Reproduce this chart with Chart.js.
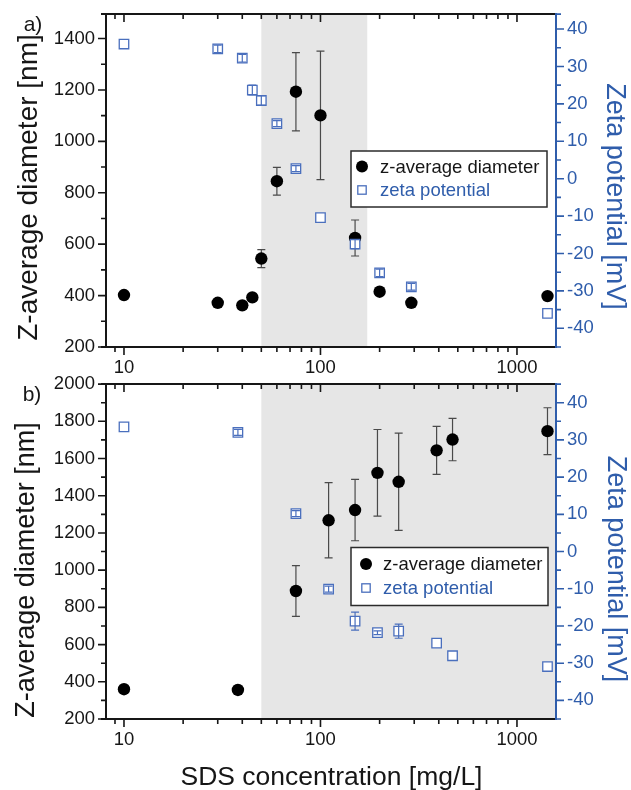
<!DOCTYPE html>
<html>
<head>
<meta charset="utf-8">
<script src="https://cdn.jsdelivr.net/npm/chart.js@4.4.1/dist/chart.umd.min.js"></script>
<style>
  body { margin: 0; background: #fff; }
  #wrap { position: relative; width: 631px; height: 790px; overflow: hidden; }
  #wrap canvas { position: absolute; left: 0; }
  #chartA { top: 0; }
  #chartB { top: 370px; }
</style>
</head>
<body>
<div id="wrap">
  <canvas id="chartA" width="631" height="380"></canvas>
  <canvas id="chartB" width="631" height="420"></canvas>
</div>
<script>
// ---- data ----
// panel a)
const concA    = [10, 30, 40, 45, 50, 60, 75, 100, 150, 200, 290, 1430];
const diamA    = [402, 372, 362, 393, 544, 845, 1193, 1101, 624, 415, 372, 398];
const diamErrA = [0, 0, 0, 0, 35, 54, 152, 250, 70, 0, 0, 0];
const zetaA    = [36, 34.7, 32.2, 23.7, 20.9, 14.7, 2.7, -10.4, -17.5, -25.2, -28.9, -36];
const zetaErrA = [0, 1.0, 1.0, 1.3, 1.3, 0.8, 0.8, 0, 1.2, 1.0, 0.9, 0];
const shadeA   = [50, 173];

// panel b)
const concB    = [10, 38, 75, 110, 150, 195, 250, 390, 470, 1430];
const diamB    = [360, 356, 888, 1268, 1323, 1523, 1475, 1644, 1702, 1747];
const diamErrB = [0, 0, 136, 202, 165, 233, 261, 129, 114, 126];
const zetaB    = [33.5, 32, 10.2, -10.1, -18.7, -21.8, -21.4, -24.6, -28, -30.9];
const zetaErrB = [0, 0.8, 0.8, 0.8, 2.4, 0.5, 1.9, 0, 0, 0];
const shadeB   = [50, 5000];

// axes / ticks
const xRange      = [8.1, 1580];
const xMajorTicks = [10, 100, 1000];
const xTickValues = [1, 10, 100, 1000]
  .flatMap((d) => [1, 2, 3, 4, 5, 6, 7, 8, 9].map((k) => k * d))
  .filter((v) => v >= xRange[0] && v <= xRange[1]);
const diamRangeA = [200, 1495];
const diamRangeB = [200, 2000];
const zetaRangeA = [-45, 44];
const zetaRangeB = [-45, 45];
const diamLabelStep = 200, diamMinorStep = 100;
const zetaLabelStep = 10, zetaMinorStep = 5;

const LABEL_DIAM = "z-average diameter";
const LABEL_ZETA = "zeta potential";
const TITLE_LEFT = "Z-average diameter [nm]";
const TITLE_RIGHT = "Zeta potential [mV]";
const TITLE_X = "SDS concentration [mg/L]";

// ---- style ----
const FONT = '"Liberation Sans", Arial, Helvetica, sans-serif';
const BLUE = "#2f5dab";
const SQ_BLUE = "#4a6fbd";
const SHADE = "#e6e6e6";
const INK = "#161616";

function stepTicks(range, step) {
  const out = [];
  for (let v = Math.ceil(range[0] / step) * step; v <= range[1] + 1e-9; v += step) out.push(v);
  return out;
}
const isMultiple = (v, step) => Math.abs(Math.round(v / step) * step - v) < 1e-9;

/* ---------- decorations: shade, error bars, axes, legend, titles ---------- */
function drawErr(chart, onTop) {
  const ctx = chart.ctx;
  chart.data.datasets.forEach((ds, i) => {
    if (!ds.errors || !!ds.errOnTop !== onTop) return;
    const meta = chart.getDatasetMeta(i);
    const ys = chart.scales[ds.yAxisID];
    ctx.save();
    ctx.strokeStyle = ds.errColor;
    ctx.lineWidth = 1.2;
    meta.data.forEach((pt, j) => {
      const e = ds.errors[j];
      if (!e) return;
      const v = ds.data[j].y;
      const yt = ys.getPixelForValue(v + e);
      const yb = ys.getPixelForValue(v - e);
      ctx.beginPath();
      ctx.moveTo(pt.x, yt); ctx.lineTo(pt.x, yb);
      ctx.moveTo(pt.x - 4, yt); ctx.lineTo(pt.x + 4, yt);
      ctx.moveTo(pt.x - 4, yb); ctx.lineTo(pt.x + 4, yb);
      ctx.stroke();
    });
    ctx.restore();
  });
}

const decoPlugin = {
  id: "deco",
  beforeDatasetsDraw(chart, args, o) {
    const { ctx, chartArea: ca, scales } = chart;
    const x = scales.x;
    const x1 = Math.max(x.getPixelForValue(o.shade[0]), ca.left);
    const x2 = Math.min(x.getPixelForValue(o.shade[1]), ca.right);
    ctx.save();
    ctx.fillStyle = SHADE;
    ctx.fillRect(x1, ca.top, x2 - x1, ca.bottom - ca.top);
    ctx.restore();
    drawErr(chart, false);
  },
  afterDatasetsDraw(chart) {
    drawErr(chart, true);
  },
  afterDraw(chart, args, o) {
    const { ctx, chartArea: ca, scales } = chart;
    const x = scales.x, yl = scales.y, yr = scales.y2;
    ctx.save();
    ctx.lineCap = "butt";

    // black frame parts + ticks
    ctx.strokeStyle = INK;
    ctx.lineWidth = 2;
    ctx.beginPath();
    ctx.moveTo(ca.left - 5, ca.bottom); ctx.lineTo(ca.right, ca.bottom);
    ctx.moveTo(ca.left - 5, ca.top); ctx.lineTo(ca.right, ca.top);
    ctx.moveTo(ca.left, ca.top); ctx.lineTo(ca.left, ca.bottom);
    ctx.stroke();

    ctx.lineWidth = 1.6;
    ctx.beginPath();
    x.ticks.forEach((t) => {
      const px = x.getPixelForValue(t.value);
      const len = xMajorTicks.includes(t.value) ? 8 : 5;
      ctx.moveTo(px, ca.bottom); ctx.lineTo(px, ca.bottom + len);
      ctx.moveTo(px, ca.top); ctx.lineTo(px, ca.top + len);
    });
    yl.ticks.forEach((t) => {
      const py = yl.getPixelForValue(t.value);
      const len = isMultiple(t.value, diamLabelStep) ? 8 : 5;
      ctx.moveTo(ca.left - len, py); ctx.lineTo(ca.left, py);
    });
    ctx.stroke();

    // blue right axis
    ctx.strokeStyle = BLUE;
    ctx.lineWidth = 2;
    ctx.beginPath();
    ctx.moveTo(ca.right, ca.top - 1); ctx.lineTo(ca.right, ca.bottom + 1);
    ctx.stroke();
    ctx.lineWidth = 1.6;
    ctx.beginPath();
    yr.ticks.forEach((t) => {
      const py = yr.getPixelForValue(t.value);
      const len = isMultiple(t.value, zetaLabelStep) ? 8 : 5;
      ctx.moveTo(ca.right, py); ctx.lineTo(ca.right + len, py);
    });
    ctx.moveTo(ca.right, ca.top); ctx.lineTo(ca.right + 5, ca.top);
    ctx.moveTo(ca.right, ca.bottom); ctx.lineTo(ca.right + 5, ca.bottom);
    ctx.stroke();

    // legend
    const L = o.legend;
    const dsDiam = chart.data.datasets.find((d) => d.label === LABEL_DIAM);
    const dsZeta = chart.data.datasets.find((d) => d.label === LABEL_ZETA);
    ctx.fillStyle = "#fff";
    ctx.fillRect(L.x, L.y, L.w, L.h);
    ctx.strokeStyle = "#2b2b2b";
    ctx.lineWidth = 1.5;
    ctx.strokeRect(L.x, L.y, L.w, L.h);
    ctx.fillStyle = "#000";
    ctx.beginPath();
    ctx.arc(L.mx, L.rows[0], 6, 0, Math.PI * 2);
    ctx.fill();
    ctx.strokeStyle = SQ_BLUE;
    ctx.lineWidth = 1.3;
    ctx.strokeRect(L.mx - 4.2, L.rows[1] - 4.2, 8.4, 8.4);
    ctx.font = "18.5px " + FONT;
    ctx.textAlign = "left";
    ctx.textBaseline = "middle";
    ctx.fillStyle = INK;
    ctx.fillText(dsDiam.label, L.tx, L.rows[0] + 1);
    ctx.fillStyle = BLUE;
    ctx.fillText(dsZeta.label, L.tx, L.rows[1] + 1);

    // panel label
    ctx.fillStyle = INK;
    ctx.font = "21px " + FONT;
    ctx.textAlign = "center";
    ctx.fillText(o.panel, o.panelPos[0], o.panelPos[1]);

    // axis titles
    ctx.textBaseline = "alphabetic";
    ctx.save();
    ctx.translate(o.leftTitle[0], o.leftTitle[1]);
    ctx.rotate(-Math.PI / 2);
    ctx.font = o.leftTitle[2] + "px " + FONT;
    ctx.fillStyle = INK;
    ctx.fillText(TITLE_LEFT, 0, 0);
    ctx.restore();

    ctx.save();
    ctx.translate(o.rightTitle[0], o.rightTitle[1]);
    ctx.rotate(Math.PI / 2);
    ctx.font = o.rightTitle[2] + "px " + FONT;
    ctx.fillStyle = BLUE;
    ctx.fillText(TITLE_RIGHT, 0, 0);
    ctx.restore();

    if (o.xTitle) {
      ctx.font = o.xTitle[2] + "px " + FONT;
      ctx.fillStyle = INK;
      ctx.fillText(TITLE_X, o.xTitle[0], o.xTitle[1]);
    }
    ctx.restore();
  },
};

/* ---------- chart builder ---------- */
function buildChart(canvasId, p) {
  const tickFont = { family: FONT, size: 18.5 };
  return new Chart(document.getElementById(canvasId), {
    type: "scatter",
    data: {
      datasets: [
        {
          label: LABEL_ZETA,
          data: p.conc.map((c, i) => ({ x: c, y: p.zeta[i] })),
          yAxisID: "y2",
          pointStyle: "rect",
          pointRadius: 6.7,
          pointHoverRadius: 6.7,
          pointBackgroundColor: "#fff",
          pointBorderColor: SQ_BLUE,
          pointBorderWidth: 1.3,
          errors: p.zetaErr,
          errColor: SQ_BLUE,
          errOnTop: true,
        },
        {
          label: LABEL_DIAM,
          data: p.conc.map((c, i) => ({ x: c, y: p.diam[i] })),
          yAxisID: "y",
          pointStyle: "circle",
          pointRadius: 6.2,
          pointHoverRadius: 6.2,
          pointBackgroundColor: "#000",
          pointBorderColor: "#000",
          pointBorderWidth: 0,
          errors: p.diamErr,
          errColor: "#4a4a4a",
        },
      ],
    },
    options: {
      responsive: false,
      animation: false,
      events: [],
      layout: { padding: { top: 14, left: 0, right: 0, bottom: 0 } },
      plugins: {
        legend: { display: false },
        tooltip: { enabled: false },
        deco: p.deco,
      },
      scales: {
        x: {
          type: "logarithmic",
          position: "bottom",
          min: xRange[0],
          max: xRange[1],
          grid: { display: false },
          border: { display: false },
          afterBuildTicks: (s) => {
            s.ticks = xTickValues.map((v) => ({ value: v, major: xMajorTicks.includes(v) }));
          },
          afterFit: (s) => { s.height = p.xHeight; },
          ticks: {
            autoSkip: false,
            maxRotation: 0,
            padding: 2,
            color: INK,
            font: tickFont,
            callback: (v) => (xMajorTicks.includes(v) ? String(v) : ""),
          },
        },
        y: {
          type: "linear",
          position: "left",
          min: p.diamRange[0],
          max: p.diamRange[1],
          grid: { display: false },
          border: { display: false },
          afterBuildTicks: (s) => {
            s.ticks = stepTicks(p.diamRange, diamMinorStep).map((v) => ({ value: v }));
          },
          afterFit: (s) => { s.width = 106; },
          ticks: {
            autoSkip: false,
            padding: 3,
            color: INK,
            font: tickFont,
            callback: (v) => (isMultiple(v, diamLabelStep) ? String(v) : ""),
          },
        },
        y2: {
          type: "linear",
          position: "right",
          min: p.zetaRange[0],
          max: p.zetaRange[1],
          grid: { display: false },
          border: { display: false },
          afterBuildTicks: (s) => {
            s.ticks = stepTicks(p.zetaRange, zetaMinorStep).map((v) => ({ value: v }));
          },
          afterFit: (s) => { s.width = 75; },
          ticks: {
            autoSkip: false,
            padding: 3,
            color: BLUE,
            font: tickFont,
            callback: (v) => (isMultiple(v, zetaLabelStep) ? String(Math.round(v)) : ""),
          },
        },
      },
    },
    plugins: [decoPlugin],
  });
}

buildChart("chartA", {
  conc: concA, diam: diamA, diamErr: diamErrA, zeta: zetaA, zetaErr: zetaErrA,
  diamRange: diamRangeA, zetaRange: zetaRangeA, xHeight: 33,
  deco: {
    shade: shadeA,
    panel: "a)", panelPos: [33, 25],
    legend: { x: 351, y: 151, w: 196, h: 56, rows: [166.5, 190], mx: 362, tx: 380 },
    leftTitle: [36.5, 187.5, 28],
    rightTitle: [607, 196.5, 27],
    xTitle: null,
  },
});

buildChart("chartB", {
  conc: concB, diam: diamB, diamErr: diamErrB, zeta: zetaB, zetaErr: zetaErrB,
  diamRange: diamRangeB, zetaRange: zetaRangeB, xHeight: 71,
  deco: {
    shade: shadeB,
    panel: "b)", panelPos: [32, 25],
    legend: { x: 351, y: 177.5, w: 197, h: 58, rows: [194, 218], mx: 366, tx: 383 },
    leftTitle: [33.5, 200, 27],
    rightTitle: [608, 199, 27],
    xTitle: [331.5, 415, 26.5],
  },
});
</script>
</body>
</html>
